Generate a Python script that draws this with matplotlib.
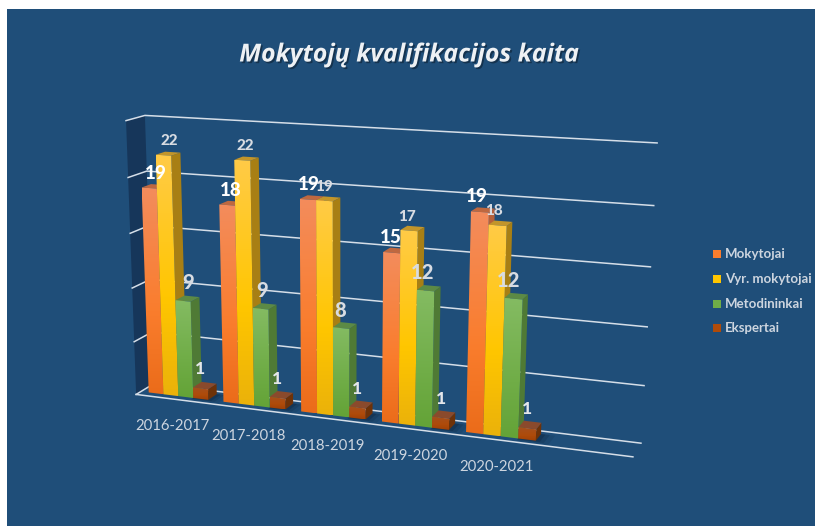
import numpy as np
import matplotlib
matplotlib.use('Agg')
import matplotlib.pyplot as plt
from matplotlib.patches import Polygon, Rectangle
import matplotlib.patheffects as pe

# --- Data ---
years = ['2016-2017', '2017-2018', '2018-2019', '2019-2020', '2020-2021']
mokytojai = [19, 18, 19, 15, 19]
vyr_mokytojai = [22, 22, 19, 17, 18]
metodininkai = [9, 9, 8, 12, 12]
ekspertai = [1, 1, 1, 1, 1]
series_names = ['Mokytojai', 'Vyr. mokytojai', 'Metodininkai', 'Ekspertai']
y_ticks = [0, 5, 10, 15, 20, 25]

# --- Style ---
W, H = 815, 526
BG = '#1F4E79'
WALL = '#16365A'
GRID = '#D5DEE8'
TEXT = '#CDD5DF'
N_SLOTS = 6       # chart has one empty category on the right
Y_MAX = 25
BAR_W = 0.2
GAP = 0.105
Z0, Z1 = 0.27, 0.78

# front colour gradient (top, middle, bottom), side and top faces
front_cols = [
    [(243, 140, 92), (250, 125, 45), (235, 108, 26)],
    [(255, 203, 70), (255, 198, 0), (235, 178, 10)],
    [(132, 187, 98), (112, 173, 71), (100, 163, 55)],
    [(165, 80, 30), (175, 75, 10), (160, 65, 5)],
]
side_cols = ['#B5603A', '#A87F14', '#4F7A35', '#6E3208']
top_cols = ['#BE6840', '#C2952A', '#5C8A45', '#8A4A2C']

# label look per series: colour, font size, offset from bar top
label_style = [
    ('white', 13.5, 4, -15),
    ('#D8DCE2', 11, 3, -14),
    ('#D8DCE2', 14.5, 2, -18),
    ('#E4E6EA', 12.5, 0, -19),
]
# the labels drift left of their bars towards the right of the chart
label_drift = [3, 0, -3, -5, -7]


# --- Projection: fit a camera matrix to the corners of the chart box ---
def fit_camera():
    box = [
        ((0, 0, 1), (152, 385)), ((N_SLOTS, 0, 1), (641, 442)),
        ((0, Y_MAX, 1), (147, 115)), ((N_SLOTS, Y_MAX, 1), (657, 143)),
        ((0, 0, 0), (138, 393)), ((N_SLOTS, 0, 0), (633, 458)),
        ((0, Y_MAX, 0), (124, 121)),
    ]
    rows = []
    for (x, y, z), (u, v) in box:
        rows.append([x, y, z, 1, 0, 0, 0, 0, -u * x, -u * y, -u * z, -u])
        rows.append([0, 0, 0, 0, x, y, z, 1, -v * x, -v * y, -v * z, -v])
    return np.linalg.svd(np.array(rows, float))[2][-1].reshape(3, 4)


CAM = fit_camera()


def proj(x, y, z):
    p = CAM @ np.array([x, y, z, 1.0])
    return p[0] / p[2], p[1] / p[2]


def gradient(cols, n=64):
    pos = np.linspace(0, 1, n)
    img = np.zeros((n, 1, 3))
    for c in range(3):
        img[:, 0, c] = np.interp(pos, [0, 0.6, 1], [k[c] / 255 for k in cols])
    return img


def draw_bar(ax, x0, value, idx, zorder):
    x1 = x0 + BAR_W
    # right side and top faces first, front goes over them
    side = [proj(x1, 0, Z0), proj(x1, 0, Z1), proj(x1, value, Z1), proj(x1, value, Z0)]
    top = [proj(x0, value, Z0), proj(x1, value, Z0), proj(x1, value, Z1), proj(x0, value, Z1)]
    front = [proj(x0, 0, Z0), proj(x1, 0, Z0), proj(x1, value, Z0), proj(x0, value, Z0)]
    ax.add_patch(Polygon(side, fc=side_cols[idx], ec='none', zorder=zorder))
    ax.add_patch(Polygon(top, fc=top_cols[idx], ec='none', zorder=zorder))
    clip = Polygon(front, fc='none', ec='none', transform=ax.transData, zorder=zorder)
    ax.add_patch(clip)
    xs = [p[0] for p in front]
    ys = [p[1] for p in front]
    im = ax.imshow(gradient(front_cols[idx]), extent=(min(xs), max(xs), max(ys), min(ys)),
                   origin='upper', aspect='auto', zorder=zorder, interpolation='bilinear')
    im.set_clip_path(clip)


# --- Figure ---
fig = plt.figure(figsize=(W / 100, H / 100), dpi=100, facecolor='white')
ax = fig.add_axes([0, 0, 1, 1])
ax.set_axis_off()
ax.add_patch(Rectangle((7, 9), W - 7, H - 9, fc=BG, ec='none', zorder=0))

# left wall
ax.add_patch(Polygon([proj(0, 0, 0), proj(0, 0, 1), proj(0, Y_MAX, 1), proj(0, Y_MAX, 0)],
                     fc=WALL, ec='none', zorder=1))

# gridlines on both walls, floor front edge
for t in y_ticks:
    pts = [proj(0, t, 0), proj(0, t, 1), proj(N_SLOTS, t, 1)]
    ax.plot([p[0] for p in pts], [p[1] for p in pts], color=GRID, lw=1.1, zorder=2)
pts = [proj(0, 0, 0), proj(N_SLOTS, 0, 0)]
ax.plot([p[0] for p in pts], [p[1] for p in pts], color=GRID, lw=1.1, zorder=2)

# bars, far (left) to near (right)
all_series = [mokytojai, vyr_mokytojai, metodininkai, ekspertai]
z = 3
labels = []
for g in range(len(years)):
    # floor shadow under the last bar of the group
    xe = g + GAP + 4 * BAR_W
    for grow, alpha in [(0.16, 0.12), (0.10, 0.18), (0.05, 0.28)]:
        shadow = [proj(xe - BAR_W, 0, Z0 - grow), proj(xe + grow, 0, Z0 - grow),
                  proj(xe + grow, 0, Z1), proj(xe - BAR_W, 0, Z1)]
        ax.add_patch(Polygon(shadow, fc='#0B1E33', ec='none', alpha=alpha, zorder=z))
    z += 1
    for s, values in enumerate(all_series):
        x0 = g + GAP + s * BAR_W
        draw_bar(ax, x0, values[g], s, z)
        z += 1
        px, py = proj(x0 + BAR_W / 2, values[g], Z0)
        col, size, dx, dy = label_style[s]
        if s < 3:
            dx += label_drift[g]
        labels.append((px + dx, py + dy, str(values[g]), col, size))

for px, py, txt, col, size in labels:
    ax.text(px, py, txt, color=col, fontsize=size, fontweight='black', family='Lato',
            ha='center', va='center', zorder=200)

# category labels
for g, name in enumerate(years):
    px, py = proj(g + 0.5, 0, 0)
    ax.text(px - 1, py + 27, name, color=TEXT, fontsize=10.7, family='Lato',
            ha='center', va='center', zorder=200)

# title
ax.text(409, 55, 'Mokytojų kvalifikacijos kaita', color='#EEF1F4', fontsize=17.9,
        family='Open Sans', fontweight='bold', fontstyle='italic', ha='center', va='center',
        zorder=200, path_effects=[pe.withSimplePatchShadow(offset=(1.2, -1.2), shadow_rgbFace='k', alpha=0.35)])

# legend
legend_y = [254, 279, 304, 328]
for idx, name in enumerate(series_names):
    col = tuple(c / 255 for c in front_cols[idx][1])
    ax.add_patch(Rectangle((713, legend_y[idx] - 4), 8, 8, fc=col, ec='none', zorder=200))
    ax.text(725, legend_y[idx], name, color=TEXT, fontsize=9.5, fontweight='bold', family='Lato',
            ha='left', va='center', zorder=200)

ax.set_xlim(0, W)
ax.set_ylim(H, 0)
fig.savefig('out.png', dpi=100, facecolor='white')
